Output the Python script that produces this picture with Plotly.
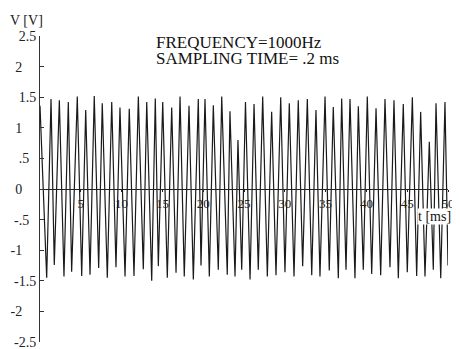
import plotly.graph_objects as go

# Values (t in ms, V in volts)
peak_t = [0.0, 1.35, 2.37, 3.47, 4.57, 5.60, 6.65, 7.63, 8.79, 9.80,
          10.94, 12.05, 13.08, 14.13, 15.04, 16.14, 17.16, 18.26, 19.40, 20.22,
          21.24, 22.27, 23.28, 24.26, 25.18, 26.23, 27.29, 28.39, 29.50, 30.55,
          31.65, 32.76, 33.82, 34.93, 35.94, 36.97, 37.99, 39.01, 40.11, 41.18,
          42.28, 43.38, 44.52, 45.63, 46.65, 47.71, 48.53, 49.63]
peak_v = [1.36, 1.47, 1.45, 1.42, 1.51, 1.29, 1.52, 1.40, 1.42, 1.33,
          1.31, 1.51, 1.42, 1.48, 1.42, 1.33, 1.51, 1.36, 1.47, 1.47,
          1.37, 1.51, 1.27, 0.80, 1.42, 1.39, 1.51, 1.26, 1.50, 1.40,
          1.45, 1.47, 1.29, 1.51, 1.34, 1.48, 1.47, 1.35, 1.51, 1.32,
          1.47, 1.45, 1.39, 1.50, 1.26, 0.77, 1.40, 1.42]
trough_t = [0.82, 1.75, 2.94, 3.88, 5.11, 6.13, 7.19, 8.25, 9.31, 10.42,
            11.52, 12.66, 13.69, 14.50, 15.60, 16.67, 17.68, 18.79, 19.73, 20.75,
            21.85, 22.95, 23.90, 24.72, 25.74, 26.75, 27.86, 28.92, 30.02, 31.13,
            32.19, 33.30, 34.31, 35.45, 36.56, 37.50, 38.60, 39.62, 40.65, 41.75,
            42.89, 43.91, 45.01, 46.16, 47.18, 48.20, 49.11, 50.0]
trough_v = [-1.45, -1.24, -1.43, -1.35, -1.42, -1.40, -1.29, -1.45, -1.28, -1.43,
            -1.42, -1.31, -1.50, -1.26, -1.45, -1.37, -1.43, -1.48, -1.25, -1.43,
            -1.32, -1.40, -1.43, -1.32, -1.48, -1.32, -1.43, -1.41, -1.36, -1.43,
            -1.26, -1.41, -1.43, -1.33, -1.46, -1.32, -1.46, -1.32, -1.39, -1.41,
            -1.28, -1.46, -1.36, -1.42, -1.43, -1.32, -1.46, -1.25]

y_tickvals = [2.5, 2, 1.5, 1, 0.5, 0, -0.5, -1, -1.5, -2, -2.5]
y_ticklabels = ["2.5", "2", "1.5", "1", ".5", "0", "-.5", "-1", "-1.5", "-2", "-2.5"]
x_tickvals = [5, 10, 15, 20, 25, 30, 35, 40, 45, 50]
x_ticklabels = ["5", "10", "15", "20", "25", "30", "35", "40", "45", "50"]

# interleave peaks and troughs into one trace
t_pts, v_pts = [], []
for pt, pv, tt, tv in zip(peak_t, peak_v, trough_t, trough_v):
    t_pts += [pt, tt]
    v_pts += [pv, tv]

FIG_SPACE = "\u2007"
def pad(lbl):
    # align labels roughly on the integer digit as in the reference
    if "." in lbl:
        n = 0 if lbl.lstrip("-")[0].isdigit() else 1
    else:
        n = 2
    return lbl + FIG_SPACE * n

serif = "Liberation Serif, Times New Roman, serif"

fig = go.Figure()
fig.add_trace(go.Scatter(x=t_pts, y=v_pts, mode="lines",
                         line=dict(color="#1a1a1a", width=1.2),
                         hoverinfo="skip", showlegend=False))

# page has an 8px body margin -> figure is 452x341 drawn at (8, 8)
fig.update_layout(
    width=452, height=341,
    margin=dict(l=32, r=12, t=28, b=7),
    paper_bgcolor="white", plot_bgcolor="white",
    font=dict(family=serif, color="#111"),
    xaxis=dict(range=[0, 50], anchor="free", position=0.5, automargin=False,
               showgrid=False, zeroline=False, showline=True,
               linecolor="#222", linewidth=1.2, ticklabeloverflow="allow",
               tickvals=x_tickvals, ticktext=x_ticklabels,
               ticks="outside", ticklen=2, tickcolor="#222",
               tickfont=dict(family=serif, size=13, color="#222")),
    yaxis=dict(range=[-2.5, 2.5], showgrid=False, zeroline=False, automargin=False,
               showline=True, linecolor="#333", linewidth=1,
               ticklabeloverflow="allow",
               tickvals=y_tickvals, ticktext=[pad(s) for s in y_ticklabels],
               ticks="inside", ticklen=4, tickcolor="#333",
               tickfont=dict(family=serif, size=14, color="#222")),
    annotations=[
        dict(text="V [V]", xref="paper", yref="paper", x=-0.034, y=1.051,
             xanchor="center", yanchor="middle",
             showarrow=False, font=dict(family=serif, size=14, color="#222")),
        dict(text="FREQUENCY=1000Hz", xref="paper", yref="paper",
             x=0.279, y=0.979, xanchor="left", yanchor="middle", showarrow=False,
             font=dict(family=serif, size=17, color="#111")),
        dict(text="SAMPLING TIME= .2 ms", xref="paper", yref="paper",
             x=0.279, y=0.925, xanchor="left", yanchor="middle", showarrow=False,
             font=dict(family=serif, size=17, color="#111")),
        dict(text="t [ms]", xref="paper", yref="paper", x=0.968, y=0.409,
             xanchor="center", yanchor="middle",
             showarrow=False, font=dict(family=serif, size=14, color="#111"),
             bgcolor="white", borderpad=0),
    ],
)

fig.write_html("out.html")
